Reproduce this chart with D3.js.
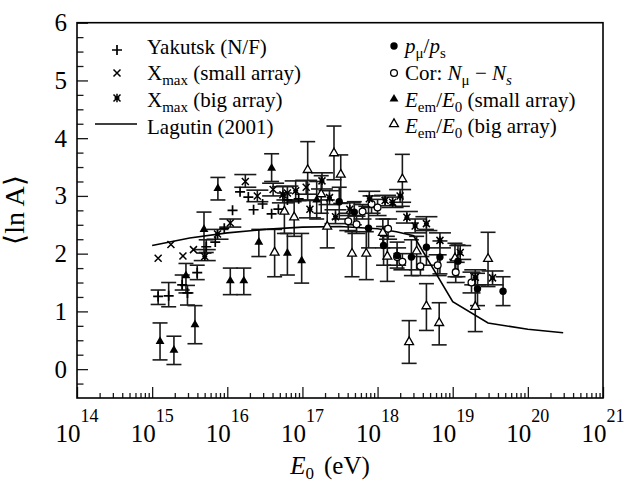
<!DOCTYPE html>
<html><head><meta charset="utf-8">
<script src="https://cdn.jsdelivr.net/npm/d3@7"></script>
<style>
body{margin:0;background:#fff}
</style>
</head><body>
<svg id="chart" width="626" height="485" font-family="Liberation Serif, Times New Roman, serif"></svg>
<script>
// ---- tick labels ----
const xTickExponents = [14, 15, 16, 17, 18, 19, 20, 21];
const yTickValues = [0, 1, 2, 3, 4, 5, 6];

// ---- series: [log10(E0/eV), <lnA>, error low, error high] ----
const yakutsk = [
  [15.08,1.26,1.12,1.37],[15.22,1.27,1.08,1.50],[15.40,1.46,1.37,1.63],[15.47,1.32,1.11,1.45],
  [15.60,1.67,1.55,1.80],[15.72,2.12,2.02,2.24],[15.84,2.20,null,null],[15.96,2.44,null,null],
  [16.07,2.75,null,null],[16.17,3.07,null,null],[16.28,2.98,null,null],[16.35,2.76,null,null],
  [16.47,2.86,null,null],[16.59,2.69,null,null],[16.68,2.77,null,null],[16.80,2.93,null,null],
  [16.95,2.95,null,null]
];
const xmaxSmall = [
  [15.08,1.92,null,null],[15.25,2.16,null,null],[15.41,1.96,null,null],[15.55,2.07,null,null],
  [16.04,2.53,2.46,2.60],[16.24,3.25,3.15,3.37],[16.40,3.00,2.90,3.10],[16.61,3.11,3.00,3.22],
  [16.80,3.05,2.93,3.17],[17.05,3.15,3.03,3.27]
];
const xmaxBig = [
  [15.70,1.95,1.88,2.07],[15.87,2.34,2.25,2.42],[16.74,3.02,2.88,3.16],[16.91,3.09,2.92,3.26],
  [17.10,2.77,2.62,2.92],[17.26,3.26,3.12,3.40],[17.36,2.97,2.85,3.09],[17.44,2.64,2.52,2.76],
  [17.63,2.77,2.66,2.88],[17.89,2.95,2.82,3.08],[18.10,2.92,2.83,3.01],[18.20,2.89,2.80,2.98],
  [18.30,3.00,2.89,3.11],[18.39,2.63,2.53,2.73],[18.50,2.48,2.36,2.60],[18.65,2.52,2.40,2.64],
  [18.83,2.23,2.10,2.36],[19.10,2.02,1.90,2.14],[19.30,1.59,1.46,1.72],[19.53,1.58,1.46,1.70]
];
const pMuPs = [
  [17.49,2.90,2.60,3.15],[17.69,2.72,2.50,2.90],[17.88,2.44,2.10,2.80],[18.08,2.14,1.80,2.47],
  [18.26,1.97,1.75,2.20],[18.45,1.94,1.62,2.24],[18.65,2.11,1.80,2.42],[18.83,1.94,1.65,2.22],
  [19.07,1.87,1.60,2.15],[19.33,1.39,1.10,1.66],[19.67,1.35,1.10,1.60]
];
const corNmuNs = [
  [17.61,2.56,2.40,2.70],[17.72,2.51,2.35,2.65],[17.80,2.73,2.60,2.85],[17.92,2.86,2.70,3.00],
  [18.00,2.80,2.66,2.94],[18.14,2.43,2.25,2.60],[18.26,1.94,1.80,2.10],[18.33,1.86,1.72,2.00],
  [18.57,1.78,1.62,1.95],[18.80,1.80,1.62,1.98],[19.04,1.68,1.50,1.85],[19.25,1.50,1.32,1.68]
];
const eemSmall = [
  [15.105,0.48,0.16,0.80],[15.29,0.33,0.08,0.57],[15.45,1.62,1.32,1.83],[15.57,0.77,0.44,1.10],
  [15.69,2.42,2.01,2.72],[15.875,3.13,2.93,3.32],[16.04,1.53,1.29,1.75],[16.22,1.53,1.29,1.75],
  [16.42,2.20,1.95,2.42],[16.59,3.48,3.25,3.73],[16.80,2.01,1.63,2.35],[16.99,1.88,1.49,2.35],
  [17.19,2.93,2.60,3.25]
];
const eemBig = [
  [16.63,2.02,1.60,2.42],[16.76,2.73,2.35,3.05],[16.89,2.63,2.30,2.90],[17.07,3.45,2.93,3.94],
  [17.25,3.03,2.70,3.35],[17.33,2.47,2.10,2.93],[17.42,3.74,3.28,4.21],[17.51,3.37,2.87,3.71],
  [17.66,2.00,1.60,2.38],[17.85,2.00,1.55,2.38],[18.07,2.36,2.10,2.60],[18.13,1.95,1.52,2.30],
  [18.33,3.29,2.82,3.72],[18.42,0.47,0.10,0.84],[18.52,2.04,1.72,2.30],[18.65,1.09,0.67,1.48],
  [18.82,0.80,0.42,1.15],[19.03,1.92,1.60,2.18],[19.30,1.08,0.65,1.46],[19.47,1.91,1.43,2.37]
];
const lagutin = [
  [15.0,2.14],[15.5,2.27],[16.0,2.36],[16.5,2.42],[17.0,2.46],[17.5,2.47],[18.0,2.43],
  [18.25,2.38],[18.48,2.31],[19.0,1.17],[19.47,0.80],[20.0,0.69],[20.47,0.63]
];

// ---- layout ----
const SERIF = "Liberation Serif, Times New Roman, serif";
const svg = d3.select("#chart");
const L = 77, R = 603, T = 22.7, B = 398;
const x = d3.scaleLog().domain([1e14, 1e21]).range([L, R]);
const y = d3.scaleLinear().domain([-0.5, 6]).range([B, T]);
const px = d => x(Math.pow(10, d[0]));
const INK = "#1a1a1a";

// y axis ticks (inside)
const yMinor = d3.range(-0.25, 6, 0.25).filter(v => Math.abs(v - Math.round(v)) > 1e-6);
svg.append("g").attr("transform", `translate(${L},0)`)
  .call(d3.axisLeft(y).tickValues(yMinor).tickSize(-6.5).tickFormat(""))
  .call(g => g.select(".domain").remove())
  .call(g => g.selectAll("line").attr("stroke", INK).attr("stroke-width", 1.3));
svg.append("g").attr("transform", `translate(${L},0)`)
  .call(d3.axisLeft(y).tickValues(yTickValues).tickSize(-11).tickPadding(10).tickFormat(d3.format("d")))
  .attr("font-family", SERIF)
  .call(g => g.select(".domain").remove())
  .call(g => g.selectAll("line").attr("stroke", INK).attr("stroke-width", 1.3))
  .call(g => g.selectAll("text").attr("font-size", 25).attr("fill", "#000"));

// x axis ticks (inside)
const xMajor = xTickExponents.map(e => Math.pow(10, e));
const xMinor = [];
xTickExponents.slice(0, -1).forEach(e => { for (let k = 2; k <= 9; k++) xMinor.push(k * Math.pow(10, e)); });
svg.append("g").attr("transform", `translate(0,${B})`)
  .call(d3.axisBottom(x).tickValues(xMinor).tickSize(-5).tickFormat(""))
  .call(g => g.select(".domain").remove())
  .call(g => g.selectAll("line").attr("stroke", INK).attr("stroke-width", 1.3));
svg.append("g").attr("transform", `translate(0,${B})`)
  .call(d3.axisBottom(x).tickValues(xMajor).tickSize(-11).tickFormat(""))
  .call(g => g.select(".domain").remove())
  .call(g => g.selectAll("line").attr("stroke", INK).attr("stroke-width", 1.3));

// x tick labels 10^n
xTickExponents.forEach(e => {
  const t = svg.append("text").attr("x", x(Math.pow(10, e))).attr("y", 442)
    .attr("text-anchor", "middle").attr("font-size", 25).attr("font-family", SERIF);
  t.append("tspan").text("10");
  t.append("tspan").attr("dy", -20).attr("font-size", 18).text(e);
});

// frame
svg.append("rect").attr("x", L).attr("y", T).attr("width", R - L).attr("height", B - T)
  .attr("fill", "none").attr("stroke", "#000").attr("stroke-width", 1.6);

// axis titles
const xt = svg.append("text").attr("x", 330).attr("y", 474).attr("text-anchor", "middle")
  .attr("font-size", 25).attr("font-family", SERIF);
xt.append("tspan").attr("font-style", "italic").text("E");
xt.append("tspan").attr("dy", 5).attr("font-size", 17).text("0");
xt.append("tspan").attr("dy", -5).attr("dx", 10).text("(eV)");
svg.append("text").attr("transform", "translate(24,210) rotate(-90)").attr("text-anchor", "middle")
  .attr("font-size", 28).attr("font-family", SERIF).text("\u27E8ln A\u27E9");

// ---- marks ----
const plot = svg.append("g");
function errorBars(data, capW) {
  const d = data.filter(p => p[2] != null);
  const g = plot.append("g").attr("stroke", INK).attr("stroke-width", 1.6).attr("fill", "none");
  g.selectAll(".v").data(d).join("line").attr("x1", px).attr("x2", px)
    .attr("y1", p => y(p[2])).attr("y2", p => y(p[3]));
  g.selectAll(".lo").data(d).join("line").attr("x1", p => px(p) - capW / 2).attr("x2", p => px(p) + capW / 2)
    .attr("y1", p => y(p[2])).attr("y2", p => y(p[2]));
  g.selectAll(".hi").data(d).join("line").attr("x1", p => px(p) - capW / 2).attr("x2", p => px(p) + capW / 2)
    .attr("y1", p => y(p[3])).attr("y2", p => y(p[3]));
}
const shapes = {
  plus: (cx, cy) => `M${cx - 5},${cy}H${cx + 5}M${cx},${cy - 5}V${cy + 5}`,
  cross: (cx, cy) => `M${cx - 3.5},${cy - 3.5}L${cx + 3.5},${cy + 3.5}M${cx - 3.5},${cy + 3.5}L${cx + 3.5},${cy - 3.5}`,
  star: (cx, cy) => `M${cx - 3.5},${cy - 3.5}L${cx + 3.5},${cy + 3.5}M${cx - 3.5},${cy + 3.5}L${cx + 3.5},${cy - 3.5}M${cx},${cy - 4.2}V${cy + 4.2}M${cx - 2.5},${cy}H${cx + 2.5}`
};
const tri = d3.symbol().type(d3.symbolTriangle).size(34)();
function drawMarker(g, kind, cx, cy) {
  if (kind === "plus" || kind === "cross" || kind === "star") {
    g.append("path").attr("d", shapes[kind](cx, cy)).attr("stroke", "#000")
      .attr("stroke-width", kind === "plus" ? 1.7 : 1.5).attr("fill", "none");
  } else if (kind === "dot") {
    g.append("circle").attr("cx", cx).attr("cy", cy).attr("r", 3.7).attr("fill", "#000");
  } else if (kind === "ring") {
    g.append("circle").attr("cx", cx).attr("cy", cy).attr("r", 3.4).attr("fill", "#fff")
      .attr("stroke", "#000").attr("stroke-width", 1.3);
  } else if (kind === "tri") {
    g.append("path").attr("d", tri).attr("transform", `translate(${cx},${cy})`).attr("fill", "#000");
  } else if (kind === "otri") {
    g.append("path").attr("d", tri).attr("transform", `translate(${cx},${cy})`).attr("fill", "#fff")
      .attr("stroke", "#000").attr("stroke-width", 1.3);
  }
}
function markers(data, kind) {
  const g = plot.append("g");
  data.forEach(p => drawMarker(g, kind, px(p), y(p[1])));
}

errorBars(eemBig, 15);
errorBars(eemSmall, 15);
errorBars(yakutsk, 15);
errorBars(xmaxSmall, 22);
errorBars(xmaxBig, 22);
errorBars(pMuPs, 15);
errorBars(corNmuNs, 18);

plot.append("path").datum(lagutin)
  .attr("d", d3.line().x(px).y(d => y(d[1])))
  .attr("fill", "none").attr("stroke", "#000").attr("stroke-width", 1.6);

markers(eemBig, "otri");
markers(corNmuNs, "ring");
markers(yakutsk, "plus");
markers(xmaxSmall, "cross");
markers(xmaxBig, "star");
markers(eemSmall, "tri");
markers(pMuPs, "dot");

// ---- legend ----
function rich(tx, parts) {
  parts.forEach(pt => {
    const s = tx.append("tspan").text(pt.t);
    if (pt.i) s.attr("font-style", "italic");
    if (pt.sub) s.attr("font-size", 15).attr("dy", 5);
    if (pt.up) s.attr("dy", -5);
  });
}
const lg = svg.append("g").attr("font-size", 21).attr("font-family", SERIF);
const leftRows = [
  {kind: "plus", sy: 50, by: 54, parts: [{t: "Yakutsk (N/F)"}]},
  {kind: "cross", sy: 73, by: 80, parts: [{t: "X"}, {t: "max", sub: 1}, {t: " (small array)", up: 1}]},
  {kind: "star", sy: 98, by: 107, parts: [{t: "X"}, {t: "max", sub: 1}, {t: " (big array)", up: 1}]},
  {kind: "line", sy: 124, by: 134, parts: [{t: "Lagutin (2001)"}]}
];
leftRows.forEach(r => {
  if (r.kind === "line") lg.append("line").attr("x1", 95).attr("x2", 137).attr("y1", r.sy).attr("y2", r.sy)
    .attr("stroke", "#000").attr("stroke-width", 1.6);
  else drawMarker(lg, r.kind, 117, r.sy);
  rich(lg.append("text").attr("x", 147).attr("y", r.by).attr("font-size", 21).attr("font-family", SERIF), r.parts);
});
const rightRows = [
  {kind: "dot", sy: 46, by: 53, parts: [{t: "p", i: 1}, {t: "\u03BC", sub: 1}, {t: "/", up: 1}, {t: "p", i: 1}, {t: "s", sub: 1}]},
  {kind: "ring", sy: 73, by: 80, parts: [{t: "Cor: "}, {t: "N", i: 1}, {t: "\u03BC", sub: 1}, {t: " \u2212 ", up: 1}, {t: "N", i: 1}, {t: "s", sub: 1, i: 1}]},
  {kind: "tri", sy: 99, by: 107, parts: [{t: "E", i: 1}, {t: "em", sub: 1}, {t: "/", up: 1}, {t: "E", i: 1}, {t: "0", sub: 1}, {t: " (small array)", up: 1}]},
  {kind: "otri", sy: 124, by: 133, parts: [{t: "E", i: 1}, {t: "em", sub: 1}, {t: "/", up: 1}, {t: "E", i: 1}, {t: "0", sub: 1}, {t: " (big array)", up: 1}]}
];
rightRows.forEach(r => {
  drawMarker(lg, r.kind, 394, r.sy);
  rich(lg.append("text").attr("x", 405).attr("y", r.by).attr("font-size", 21).attr("font-family", SERIF), r.parts);
});
</script>
</body></html>
